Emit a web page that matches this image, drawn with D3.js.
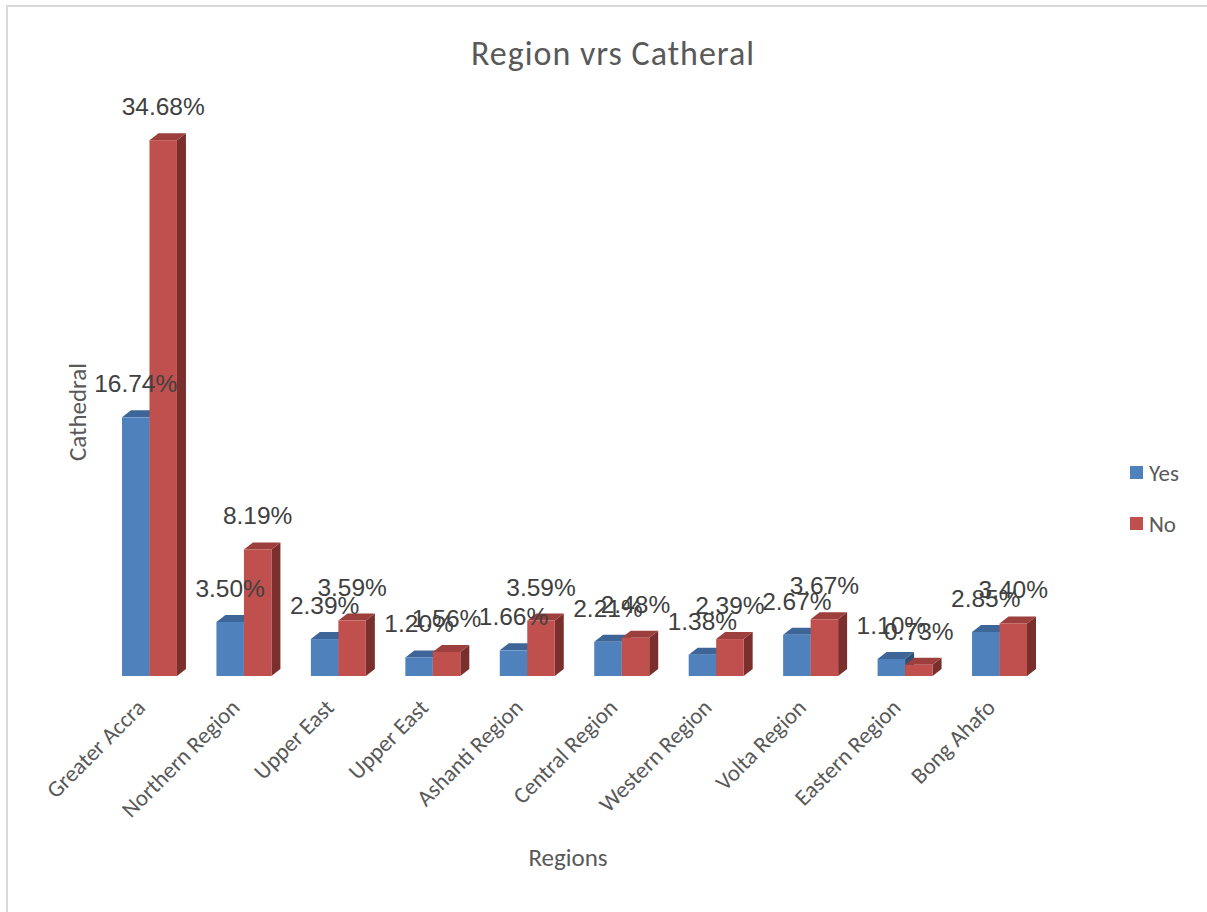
<!DOCTYPE html>
<html><head><meta charset="utf-8">
<script src="https://cdn.jsdelivr.net/npm/d3@7"></script>
<style>
html,body{margin:0;padding:0;background:#fff;}
svg{display:block;}
</style></head>
<body>
<svg id="chart" width="1207" height="912"></svg>
<script>
const categories = ["Greater Accra","Northern Region","Upper East","Upper East","Ashanti Region","Central Region","Western Region","Volta Region","Eastern Region","Bong Ahafo"];
const yesValues = [16.74, 3.50, 2.39, 1.20, 1.66, 2.21, 1.38, 2.67, 1.10, 2.85];
const noValues  = [34.68, 8.19, 3.59, 1.56, 3.59, 2.48, 2.39, 3.67, 0.73, 3.40];
const seriesNames = ["Yes","No"];
const titleText = "Region vrs Catheral";
const yTitle = "Cathedral";
const xTitle = "Regions";

const svg = d3.select("#chart");
const W = 1207, H = 912;
const calibri = "Carlito, Lato, 'Open Sans', sans-serif";

// border
svg.append("rect").attr("x",7).attr("y",6).attr("width",W+10).attr("height",H+10)
  .attr("fill","none").attr("stroke","#d9d9d9").attr("stroke-width",2);

const baseY = 676;
const y = d3.scaleLinear().domain([0,40]).range([baseY,58]);
const x = d3.scaleBand().domain(d3.range(categories.length)).range([102.25,1046.75])
  .paddingInner(0.418).paddingOuter(0.209);
const sub = d3.scaleBand().domain(seriesNames).range([0,x.bandwidth()]);

const dx = 9, dy = 7;
const colors = {
  Yes:{front:"#4f81bd", top:"#3d6597", side:"#2f4f76"},
  No:{front:"#c0504d", top:"#9c3f3d", side:"#7b2f2d"}
};

const data = categories.map((c,i)=>({i, c, Yes:yesValues[i], No:noValues[i]}));

const g = svg.append("g");
data.forEach(d=>{
  seriesNames.forEach(s=>{
    const x0 = x(d.i)+sub(s), w = sub.bandwidth(), top = y(d[s]);
    const col = colors[s];
    const grp = g.append("g");
    grp.append("path").attr("d",`M${x0+w},${baseY} L${x0+w+dx},${baseY-dy} L${x0+w+dx},${top-dy} L${x0+w},${top} Z`)
      .attr("fill",col.side);
    grp.append("path").attr("d",`M${x0},${top} L${x0+dx},${top-dy} L${x0+w+dx},${top-dy} L${x0+w},${top} Z`)
      .attr("fill",col.top);
    grp.append("rect").attr("x",x0).attr("y",top).attr("width",w).attr("height",baseY-top)
      .attr("fill",col.front);
  });
});

// data labels
data.forEach(d=>{
  seriesNames.forEach(s=>{
    const x0 = x(d.i)+sub(s), w = sub.bandwidth();
    svg.append("text").attr("x",x0+w/2).attr("y",y(d[s])-25)
      .attr("text-anchor","middle")
      .attr("font-family","'Liberation Sans', Arial, sans-serif")
      .attr("font-size",24.5).attr("fill","#404040")
      .text(d[s].toFixed(2)+"%");
  });
});

// x axis labels
data.forEach(d=>{
  const cx = x(d.i)+x.bandwidth()/2;
  svg.append("text")
    .attr("transform",`translate(${cx-3},${baseY+33}) rotate(-45)`)
    .attr("text-anchor","end")
    .attr("font-family",calibri).attr("font-size",23).attr("fill","#595959")
    .text(d.c);
});

// titles
svg.append("text").attr("x",613).attr("y",65).attr("text-anchor","middle")
  .attr("font-family",calibri).attr("font-weight",300).attr("font-size",34)
  .attr("letter-spacing",1).attr("fill","#595959")
  .text(titleText);
svg.append("text").attr("transform","translate(86,412) rotate(-90)").attr("text-anchor","middle")
  .attr("font-family",calibri).attr("font-size",25).attr("fill","#595959").text(yTitle);
svg.append("text").attr("x",568).attr("y",866).attr("text-anchor","middle")
  .attr("font-family",calibri).attr("font-size",25).attr("fill","#595959").text(xTitle);

// legend
const leg = svg.append("g");
seriesNames.forEach((s,k)=>{
  const ly = 466 + k*51;
  leg.append("rect").attr("x",1130).attr("y",ly).attr("width",13).attr("height",13).attr("fill",colors[s].front);
  leg.append("text").attr("x",1149).attr("y",ly+15).attr("font-family",calibri).attr("font-size",23)
    .attr("fill","#595959").text(s);
});
</script>
</body></html>
